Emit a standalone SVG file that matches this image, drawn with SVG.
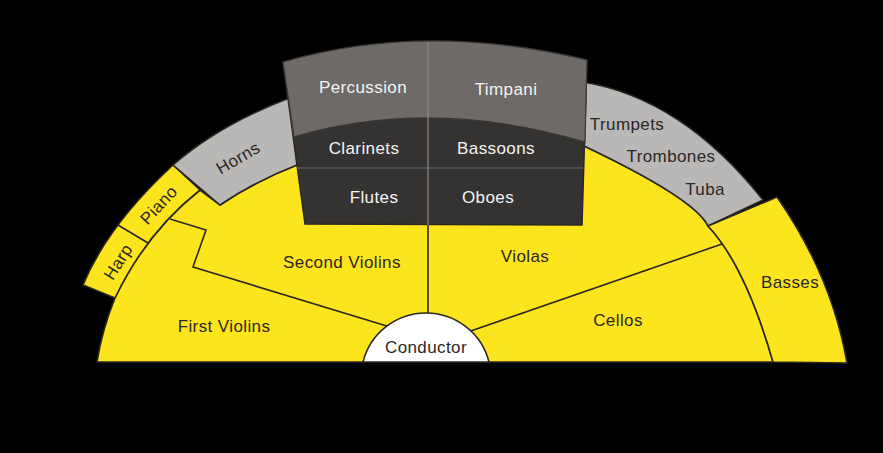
<svg xmlns="http://www.w3.org/2000/svg" width="883" height="453" viewBox="0 0 883 453">
<style>
.yel{fill:#fde51d;stroke:#2b2723;stroke-width:1.6;stroke-linejoin:round}
.gry{fill:#bab8b7;stroke:#2b2723;stroke-width:1.6;stroke-linejoin:round}
.div{fill:none;stroke:#2b2723;stroke-width:1.6}
.t{font-family:"Liberation Sans",Arial,sans-serif;font-size:17px;letter-spacing:0.4px;text-anchor:middle}
.dk{fill:#2b2723}
.wt{fill:#f4f4f2}
</style>
<rect x="0" y="0" width="883" height="453" fill="#000"/>
<g id="main-strings">
<path class="yel" d="M97,362 L773,362 Q745.5,266 708,226 Q695,198.5 582,145 L582,130 L300,130 L297,165 Q255.5,181 220,205 L200,190 Q146.5,232 115,298 Q102,330 97,362 Z"/>
</g>
<g id="harp-piano">
<path class="yel" d="M173,165 L200,190 Q146.5,232 115,298 L83,285 Q108,225 173,165 Z"/>
<line class="div" x1="118" y1="225" x2="148" y2="243"/>
</g>
<g id="horns">
<path class="gry" d="M173,165 Q220,124 292,97 L297,165 Q255.5,181 220,205 Z"/>
</g>
<g id="brass">
<path class="gry" d="M583,82 Q682,98 763,200 L708,226 Q695,198.5 582,145 Z"/>
</g>
<g id="basses">
<path class="yel" d="M773,362 L847,363 Q832,276 777,197 L708,226 Q745.5,266 773,362 Z"/>
</g>
<g id="winds">
<path d="M283,62 Q425,21 587,60 L582,225 L305,224 Z" fill="#353331" stroke="#2b2723" stroke-width="1.5"/>
<path d="M283,62 Q425,21 587,60 L585,142 Q430.5,96.5 294,137 Z" fill="#6d6a67" stroke="#3a3836" stroke-width="1.2"/>
<line x1="297" y1="168" x2="583" y2="168" stroke="#6f6d6b" stroke-width="1.2"/>
<line x1="428" y1="42" x2="428" y2="225" stroke="#8b8886" stroke-width="1.2"/>
</g>
<g id="connectors">
<polyline class="div" points="170,219 206,230 193,267 400,330"/>
<line class="div" x1="428" y1="225" x2="428" y2="320"/>
<line class="div" x1="722" y1="244" x2="465" y2="333"/>
</g>
<g id="conductor">
<path d="M363,362 A65,65 0 0 1 489,362 Z" fill="#ffffff" stroke="#2b2723" stroke-width="1.6"/>
<text class="t dk" x="426" y="353">Conductor</text>
</g>
<g id="labels">
<text class="t wt" x="363" y="93">Percussion</text>
<text class="t wt" x="506" y="95">Timpani</text>
<text class="t wt" x="364" y="154">Clarinets</text>
<text class="t wt" x="496" y="154">Bassoons</text>
<text class="t wt" x="374" y="203">Flutes</text>
<text class="t wt" x="488" y="203">Oboes</text>
<text class="t dk" x="627" y="130">Trumpets</text>
<text class="t dk" x="671" y="162">Trombones</text>
<text class="t dk" x="705" y="195">Tuba</text>
<text class="t dk" x="790" y="288">Basses</text>
<text class="t dk" x="618" y="326">Cellos</text>
<text class="t dk" x="525" y="262">Violas</text>
<text class="t dk" x="342" y="268">Second Violins</text>
<text class="t dk" x="224" y="332">First Violins</text>
<text class="t dk" transform="translate(241,163) rotate(-30)">Horns</text>
<text class="t dk" transform="translate(163,209) rotate(-47)">Piano</text>
<text class="t dk" transform="translate(123,265) rotate(-58)">Harp</text>
</g>
</svg>
